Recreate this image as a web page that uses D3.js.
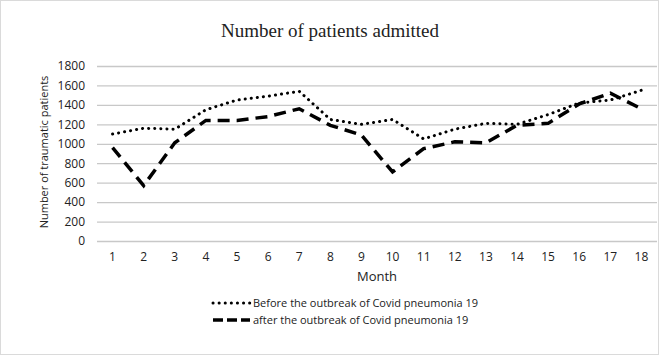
<!DOCTYPE html>
<html>
<head>
<meta charset="utf-8">
<script src="https://cdn.jsdelivr.net/npm/d3@7"></script>
<style>
  body { margin: 0; background: #fff; }
  text { font-family: "Open Sans", "Noto Sans", sans-serif; fill: #222; }
</style>
</head>
<body>
<script>
const months = d3.range(1, 19);
const before = [1100, 1160, 1150, 1350, 1450, 1490, 1540, 1250, 1200, 1250, 1050, 1150, 1210, 1200, 1300, 1420, 1450, 1550];
const after = [960, 570, 1010, 1240, 1240, 1280, 1360, 1190, 1090, 710, 950, 1020, 1010, 1190, 1210, 1410, 1520, 1360];
const yTicks = [0, 200, 400, 600, 800, 1000, 1200, 1400, 1600, 1800];

const W = 660, H = 356;
const margin = { top: 66, right: 3, bottom: 115, left: 97 };
const width = W - margin.left - margin.right;
const height = H - margin.top - margin.bottom;

const svg = d3.select("body").append("svg")
  .attr("width", W)
  .attr("height", H);

// outer dotted frame
svg.append("rect")
  .attr("x", 0.5).attr("y", 0.5)
  .attr("width", W - 2).attr("height", H - 2)
  .attr("fill", "none")
  .attr("stroke", "#b5b5b5")
  .attr("stroke-dasharray", "1,1");

svg.append("text")
  .attr("x", 330).attr("y", 37)
  .attr("text-anchor", "middle")
  .style("font-family", "'Liberation Serif', 'DejaVu Serif', serif")
  .style("font-size", "19px")
  .text("Number of patients admitted");

const g = svg.append("g")
  .attr("transform", `translate(${margin.left},${margin.top})`);

const x = d3.scaleBand().domain(months).range([0, width]);
const y = d3.scaleLinear().domain([0, 1800]).range([height, 0]);

// gridlines
g.append("g")
  .call(d3.axisLeft(y).tickValues(yTicks).tickFormat(d3.format("d")).tickSize(-width).tickPadding(12))
  .call(a => a.select(".domain").remove())
  .call(a => a.selectAll("line").attr("stroke", "#c8c8c8").attr("stroke-width", 1.3))
  .call(a => a.selectAll("text").style("font-size", "12px").attr("fill", "#222"));

g.append("g")
  .attr("transform", `translate(0,${height})`)
  .call(d3.axisBottom(x).tickSize(0).tickPadding(11))
  .call(a => a.select(".domain").remove())
  .call(a => a.selectAll("text").style("font-size", "12px").attr("fill", "#222"));

const line = d3.line()
  .x((d, i) => x(months[i]) + x.bandwidth() / 2)
  .y(d => y(d));

g.append("path")
  .datum(before)
  .attr("fill", "none")
  .attr("stroke", "#000")
  .attr("stroke-width", 3)
  .attr("stroke-linecap", "round")
  .attr("stroke-dasharray", "0.1,6")
  .attr("d", line);

g.append("path")
  .datum(after)
  .attr("fill", "none")
  .attr("stroke", "#000")
  .attr("stroke-width", 3.5)
  .attr("stroke-dasharray", "12,7")
  .attr("d", line);

// axis titles
svg.append("text")
  .attr("x", 377).attr("y", 281)
  .attr("text-anchor", "middle")
  .style("font-size", "13px")
  .text("Month");

svg.append("text")
  .attr("transform", "translate(48,152) rotate(-90)")
  .attr("text-anchor", "middle")
  .style("font-size", "11px")
  .text("Number of traumatic patients");

// legend
const legend = svg.append("g").attr("transform", "translate(212,303)");
const items = [
  { label: "Before the outbreak of Covid pneumonia 19", dash: "0.1,6", w: 3, cap: "round" },
  { label: "after the outbreak of Covid pneumonia 19", dash: "10,4", w: 3.5, cap: "butt" }
];
items.forEach((it, i) => {
  const row = legend.append("g").attr("transform", `translate(0,${i * 17})`);
  row.append("line")
    .attr("x1", 1).attr("x2", 38)
    .attr("stroke", "#000")
    .attr("stroke-width", it.w)
    .attr("stroke-linecap", it.cap)
    .attr("stroke-dasharray", it.dash);
  row.append("text")
    .attr("x", 41).attr("y", 4)
    .style("font-size", "11px")
    .text(it.label);
});
</script>
</body>
</html>
